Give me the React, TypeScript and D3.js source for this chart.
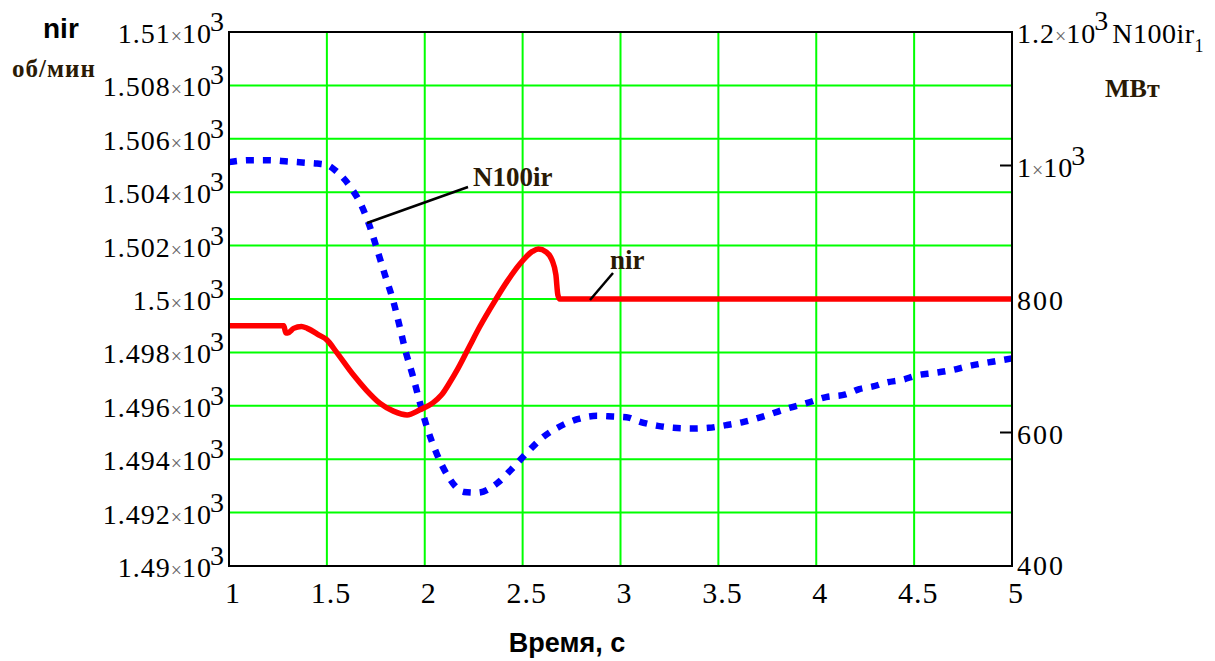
import React from 'react'
import * as d3 from 'd3'

// time axis, seconds
const timeTicks = [1, 1.5, 2, 2.5, 3, 3.5, 4, 4.5, 5]
const timeTickLabels = ['1', '1.5', '2', '2.5', '3', '3.5', '4', '4.5', '5']

// left axis: nir, rpm
const nirTicks = [1490, 1492, 1494, 1496, 1498, 1500, 1502, 1504, 1506, 1508, 1510]
const nirTickLabels = ['1.49', '1.492', '1.494', '1.496', '1.498', '1.5', '1.502', '1.504', '1.506', '1.508', '1.51']

// right axis: N100ir, MW
const powerTicks = [400, 600, 800, 1000, 1200]
const powerTickMantissa = ['400', '600', '800', '1', '1.2']
const powerTickExp = [false, false, false, true, true]

// nir series (red)
const nirTime = [1.0, 1.28, 1.29, 1.3, 1.33, 1.37, 1.4, 1.46, 1.5, 1.55, 1.635, 1.7, 1.77, 1.84, 1.91, 1.975, 2.04, 2.085, 2.13, 2.17, 2.23, 2.28, 2.36, 2.42, 2.49, 2.55, 2.58, 2.62, 2.65, 2.67, 2.68, 2.69, 5.0]
const nirValues = [1499.0, 1499.0, 1498.73, 1498.73, 1498.9, 1498.97, 1498.9, 1498.65, 1498.47, 1498.0, 1497.16, 1496.6, 1496.1, 1495.8, 1495.66, 1495.85, 1496.1, 1496.4, 1496.9, 1497.4, 1498.25, 1498.95, 1499.95, 1500.65, 1501.35, 1501.78, 1501.87, 1501.76, 1501.46, 1500.9, 1500.15, 1500.0, 1500.0]

// N100ir series (blue, dotted)
const powerTime = [1.0, 1.05, 1.1, 1.2, 1.3, 1.4, 1.45, 1.5, 1.55, 1.62, 1.68, 1.72, 1.76, 1.8, 1.84, 1.87, 1.9, 1.94, 1.975, 2.01, 2.06, 2.12, 2.2, 2.27, 2.37, 2.45, 2.52, 2.6, 2.69, 2.78, 2.88, 2.96, 3.03, 3.1, 3.19, 3.27, 3.37, 3.45, 3.54, 3.63, 3.73, 3.84, 3.95, 4.05, 4.15, 4.22, 4.29, 4.36, 4.44, 4.52, 4.6, 4.7, 4.77, 4.84, 4.9, 5.0]
const powerValues = [1005, 1007, 1008, 1008, 1006, 1004, 1003, 1001, 991, 968, 938, 908, 871, 833, 796, 761, 724, 684, 645, 609, 569, 534, 511, 510, 524, 547, 569, 592, 609, 620, 625, 624, 623, 616, 610, 607, 606, 607, 611, 616, 624, 635, 644, 653, 657, 665, 669, 675, 679, 686, 689, 694, 699, 703, 706, 711]

const W = 1215
const H = 661
const plot = { left: 229, right: 1012, top: 32, bottom: 566 }

const serif = '"Liberation Serif", "Times New Roman", serif'
const sans = '"Liberation Sans", Arial, sans-serif'
const labelColor = '#2a1a05'

const x = d3.scaleLinear().domain([1, 5]).range([plot.left, plot.right])
const yNir = d3.scaleLinear().domain([1490, 1510]).range([plot.bottom, plot.top])
const yPow = d3.scaleLinear().domain([400, 1200]).range([plot.bottom, plot.top])

function Pow10({ x: tx, y, anchor, mantissa }: { x: number, y: number, anchor: string, mantissa: string }) {
  return (
    <text x={tx} y={y} textAnchor={anchor} fontFamily={serif} fontSize={28} fill="#000">
      <tspan letterSpacing={1}>{mantissa}</tspan>
      <tspan fontSize={20} fill="#666">×</tspan>
      <tspan letterSpacing={1}>10</tspan>
      <tspan dx={-2} dy={-12}>3</tspan>
    </text>
  )
}

export default function App() {
  const nirData = nirTime.map((t, i) => [t, nirValues[i]] as [number, number])
  const powData = powerTime.map((t, i) => [t, powerValues[i]] as [number, number])

  const nirLine = d3.line<[number, number]>().x(d => x(d[0])).y(d => yNir(d[1])).curve(d3.curveMonotoneX)
  const powLine = d3.line<[number, number]>().x(d => x(d[0])).y(d => yPow(d[1])).curve(d3.curveMonotoneX)

  return (
    <div style={{ position: 'absolute', left: 0, top: 0 }}>
      <svg width={W} height={H} style={{ display: 'block', background: '#fff' }}>
        {/* grid */}
        <g stroke="#00ff00" strokeWidth={2}>
          {nirTicks.map(t => (
            <line key={'h' + t} x1={plot.left} x2={plot.right} y1={yNir(t)} y2={yNir(t)} />
          ))}
          {timeTicks.map(t => (
            <line key={'v' + t} x1={x(t)} x2={x(t)} y1={plot.top} y2={plot.bottom} />
          ))}
        </g>

        {/* right axis tick marks */}
        <g stroke="#000" strokeWidth={2}>
          {powerTicks.slice(1, -1).map(t => (
            <line key={t} x1={plot.right - 12} x2={plot.right} y1={yPow(t)} y2={yPow(t)} />
          ))}
        </g>

        {/* series */}
        <path d={powLine(powData) || ''} fill="none" stroke="#0000ff" strokeWidth={6.5}
          strokeDasharray="8 9" />
        <path d={nirLine(nirData) || ''} fill="none" stroke="#ff0000" strokeWidth={5.5}
          strokeLinejoin="round" />

        {/* frame */}
        <rect x={plot.left} y={plot.top} width={plot.right - plot.left} height={plot.bottom - plot.top}
          fill="none" stroke="#000" strokeWidth={2} />

        {/* left tick labels */}
        {nirTicks.map((t, i) => (
          <Pow10 key={t} x={224} y={yNir(t) + 11} anchor="end" mantissa={nirTickLabels[i]} />
        ))}

        {/* right tick labels */}
        {powerTicks.map((t, i) => powerTickExp[i]
          ? (i === powerTicks.length - 1 ? null :
            <Pow10 key={t} x={1017} y={yPow(t) + 11} anchor="start" mantissa={powerTickMantissa[i]} />)
          : (
            <text key={t} x={1017} y={yPow(t) + (i === 0 ? 9 : 11)} fontFamily={serif} fontSize={28} letterSpacing={2}>
              {powerTickMantissa[i]}
            </text>
          ))}
        <text x={1017} y={yPow(1200) + 11} fontFamily={serif} fontSize={28} fill="#000">
          <tspan letterSpacing={1}>1.2</tspan>
          <tspan fontSize={20} fill="#666">×</tspan>
          <tspan letterSpacing={1}>10</tspan>
          <tspan dx={-2} dy={-13}>3</tspan>
          <tspan dx={4} dy={13} letterSpacing={0.5}>N100ir</tspan>
          <tspan fontSize={18} dy={9}>1</tspan>
        </text>

        {/* bottom tick labels */}
        {timeTicks.map((t, i) => (
          <text key={t} x={x(t) + 4} y={plot.bottom + 37} textAnchor="middle" fontFamily={serif}
            fontSize={30} letterSpacing={1}>
            {timeTickLabels[i]}
          </text>
        ))}

        {/* axis titles */}
        <text x={43} y={38} fontFamily={sans} fontWeight="bold" fontSize={28}>nir</text>
        <text x={12} y={77} fontFamily={serif} fontWeight="bold" fontSize={25} letterSpacing={1}
          fill={labelColor}>об/мин</text>
        <text x={1105} y={97} fontFamily={serif} fontWeight="bold" fontSize={26} fill={labelColor}>МВт</text>
        <text x={567} y={652} textAnchor="middle" fontFamily={sans} fontWeight="bold" fontSize={27}>Время, с</text>

        {/* annotations */}
        <line x1={468} y1={187} x2={367} y2={223} stroke="#000" strokeWidth={2.5} />
        <text x={473} y={186} fontFamily={serif} fontWeight="bold" fontSize={27} fill={labelColor}>N100ir</text>
        <line x1={590} y1={300} x2={613} y2={273} stroke="#000" strokeWidth={2.5} />
        <text x={610} y={269} fontFamily={serif} fontWeight="bold" fontSize={27} fill={labelColor}>nir</text>
      </svg>
    </div>
  )
}
